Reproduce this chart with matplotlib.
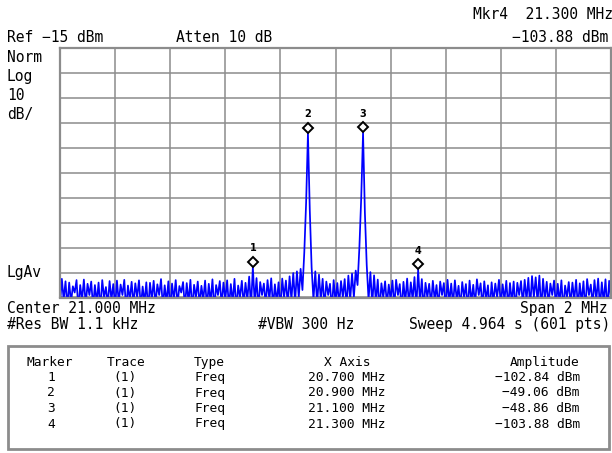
import matplotlib
matplotlib.use("Agg")
import matplotlib.pyplot as plt
import numpy as np
from matplotlib.patches import Rectangle
from matplotlib.transforms import offset_copy

# ---------------- data ----------------
start_mhz = 20.0
stop_mhz = 22.0
ref_level = -15
db_per_div = 10
n_div = 10

trace = [
    -118, -107.5, -116, -108.5, -119, -109, -117, -110.5, -113, -108,
    -120, -110, -116, -107.8, -118, -109.5, -114, -108.6, -119, -110,
    -117, -109, -120, -108, -115, -110.8, -118, -108.4, -116, -109.6,
    -119, -108.2, -117, -109.8, -114, -107.9, -120, -110.2, -116, -108.7,
    -118, -109.3, -115, -108.1, -119, -110.6, -117, -108.9, -120, -109.1,
    -116, -108.3, -118, -109.7, -114, -107.6, -119, -110.1, -117, -108.5,
    -120, -109.4, -116, -108, -118, -110.4, -113, -108.8, -119, -109.2,
    -117, -107.9, -120, -109.9, -115, -108.6, -118, -110.3, -116, -108.2,
    -119, -109.5, -117, -107.7, -120, -110, -114, -108.4, -118, -109,
    -116, -108.1, -119, -109.6, -117, -107.5, -120, -110.2, -115, -108.3,
    -118, -109.1, -116, -106.6, -119, -102.84, -117, -107.2, -120, -108.8,
    -114, -109.4, -118, -108, -116, -107.3, -119, -109.7, -117, -108.9,
    -120, -107.4, -115, -108.2, -118, -106.5, -116, -105.2, -117, -104.5,
    -115, -103.5, -112, -97, -77, -49.06, -80, -103, -116, -104.5,
    -118, -105.8, -116, -107.5, -119, -108.6, -114, -109.5, -120, -108,
    -117, -109.2, -118, -108.4, -115, -107.6, -119, -106.2, -116, -105.4,
    -115, -104.2, -110, -95, -75, -48.86, -81, -102, -116, -104.8,
    -118, -106.1, -117, -107.8, -120, -109.3, -115, -108.5, -118, -109.8,
    -116, -108.2, -119, -107.9, -114, -109.6, -120, -108.7, -117, -107.4,
    -118, -108.9, -116, -106.8, -119, -103.88, -117, -107.6, -120, -109.1,
    -115, -109.5, -118, -108.3, -116, -110, -119, -108.6, -114, -109.2,
    -120, -107.9, -117, -109.4, -118, -108.1, -116, -110.3, -119, -108.8,
    -115, -109.6, -120, -108.2, -117, -109.9, -118, -107.7, -114, -109.3,
    -119, -108.5, -116, -110.1, -120, -108.9, -117, -109.4, -115, -107.9,
    -118, -109.7, -116, -108.3, -119, -109.2, -117, -108.6, -120, -109.1,
    -114, -108.4, -118, -107.9, -116, -107.1, -119, -106.4, -115, -106.9,
    -117, -106.2, -120, -107.5, -116, -108.7, -118, -109.4, -114, -108.2,
    -119, -109.5, -117, -108.1, -120, -110.2, -115, -108.8, -118, -109,
    -116, -107.9, -119, -109.3, -117, -108.5, -120, -107.6, -114, -109.8,
    -118, -108, -116, -107.4, -119, -108.9, -117, -107.7, -120, -108.3,
    -116,
]

marker_ids = [1, 2, 3, 4]
marker_trace = ["(1)", "(1)", "(1)", "(1)"]
marker_type = ["Freq", "Freq", "Freq", "Freq"]
marker_freq = [20.700, 20.900, 21.100, 21.300]
marker_amp = [-102.84, -49.06, -48.86, -103.88]

# ---------------- figure ----------------
W, H = 612, 453
fig = plt.figure(figsize=(W / 100, H / 100), dpi=100)
fig.patch.set_facecolor("white")


def fx(x):
    return x / W


def fy(y):
    return 1 - y / H


top_px, bot_px, left_px, right_px = 48.3, 297.5, 60, 611
ax = fig.add_axes([fx(left_px), fy(bot_px), (right_px - left_px) / W, (bot_px - top_px) / H])
freqs = np.linspace(start_mhz, stop_mhz, len(trace))
ax.plot(freqs, trace, color="#0000ff", lw=1.25)
ax.set_xlim(start_mhz, stop_mhz)
bottom_level = ref_level - db_per_div * n_div
ax.set_ylim(bottom_level, ref_level)
ax.set_xticks(np.linspace(start_mhz, stop_mhz, n_div + 1))
ax.set_yticks(np.linspace(bottom_level, ref_level, n_div + 1))
ax.grid(True, color="#8c8c8c", lw=1.1)
ax.set_axisbelow(True)
ax.tick_params(length=0, labelbottom=False, labelleft=False)
for s in ax.spines.values():
    s.set_color("#8c8c8c")
    s.set_linewidth(1.6)

# marker diamonds (bottom vertex on trace point) and numbers
trans_d = offset_copy(ax.transData, fig=fig, x=0, y=5.5, units="dots")
ax.plot(marker_freq, marker_amp, ls="none", marker="D", ms=5.0, mfc="white",
        mec="black", mew=1.4, transform=trans_d, clip_on=False, zorder=5)
for mid, f, a in zip(marker_ids, marker_freq, marker_amp):
    ax.annotate(str(mid), (f, a), xytext=(0, 19), textcoords="offset pixels",
                ha="center", va="center", fontsize=7, fontweight="bold",
                family="DejaVu Sans", color="black", zorder=6)

mono = "DejaVu Sans Mono"
fs = 10.5


def t(x, y, s, ha="left", size=fs):
    fig.text(fx(x), fy(y), s, ha=ha, va="baseline", family=mono, fontsize=size, color="black")


t(7, 42, "Ref \u221215 dBm")
t(176, 42, "Atten 10 dB")
t(613, 19, "Mkr4  21.300 MHz", ha="right")
t(608, 42, "\u2212103.88 dBm", ha="right")
t(7, 62, "Norm")
t(7, 81, "Log")
t(7, 100, "10")
t(7, 119, "dB/")
t(7, 277, "LgAv")
t(7, 313, "Center 21.000 MHz")
t(608, 313, "Span 2 MHz", ha="right")
t(7, 329, "#Res BW 1.1 kHz")
t(258, 329, "#VBW 300 Hz")
t(610, 329, "Sweep 4.964 s (601 pts)", ha="right")

# marker table
box = Rectangle((fx(7.5), fy(449)), (609 - 7.5) / W, (449 - 345.6) / H, transform=fig.transFigure,
                fill=False, edgecolor="#8c8c8c", lw=2.0)
fig.add_artist(box)
tfs = 9.3
t(50, 366, "Marker", ha="center", size=tfs)
t(126, 366, "Trace", ha="center", size=tfs)
t(194, 366, "Type", size=tfs)
t(347, 366, "X Axis", ha="center", size=tfs)
t(580, 366, "Amplitude", ha="right", size=tfs)
row_y = [381, 396.5, 412, 427.5]
for y, mid, tr, ty, f, a in zip(row_y, marker_ids, marker_trace, marker_type, marker_freq, marker_amp):
    t(51, y, str(mid), ha="center", size=tfs)
    t(125, y, tr, ha="center", size=tfs)
    t(194, y, ty, size=tfs)
    t(347, y, f"{f:.3f} MHz", ha="center", size=tfs)
    t(580, y, f"{a:.2f} dBm".replace("-", "\u2212"), ha="right", size=tfs)

fig.savefig("out.png", dpi=100, facecolor="white")
